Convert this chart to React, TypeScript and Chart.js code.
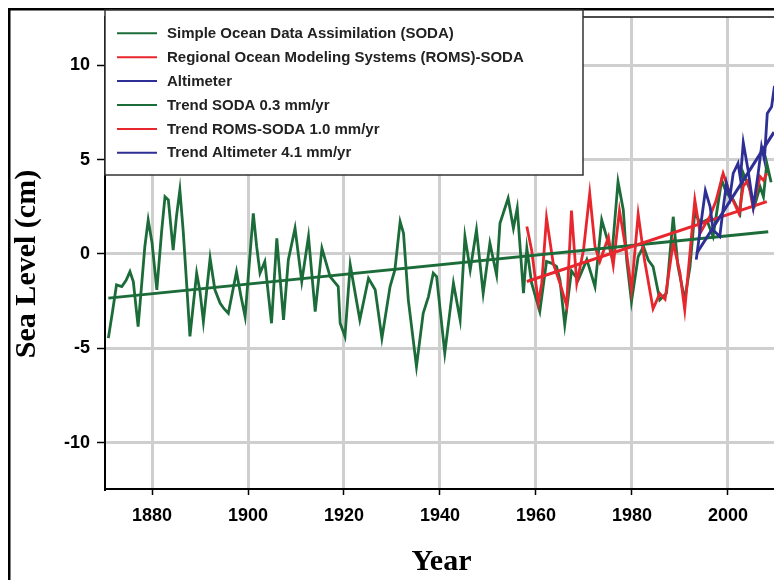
import React, { useEffect, useRef } from "react";
import { Chart, registerables } from "chart.js";

Chart.register(...registerables);

// ---------- data ----------
const X_TICKS = [1880, 1900, 1920, 1940, 1960, 1980, 2000];
const Y_TICKS = [-10, -5, 0, 5, 10];
const X_MIN = 1870.2;
const X_MAX = 2009.6;
const Y_MIN = -12.45;
const Y_MAX = 12.55;

const SERIES_LABELS = [
  "Simple Ocean Data Assimilation (SODA)",
  "Regional Ocean Modeling Systems (ROMS)-SODA",
  "Altimeter",
  "Trend SODA 0.3 mm/yr",
  "Trend ROMS-SODA 1.0 mm/yr",
  "Trend Altimeter 4.1 mm/yr",
];

const SODA_YEARS = [
  1870.9, 1871.8, 1872.6, 1873.7, 1874.6, 1875.4, 1876.1, 1877.1, 1878.5, 1879.2,
  1880.0, 1881.0, 1882.0, 1882.7, 1883.4, 1884.4, 1885.1, 1885.8, 1886.5, 1887.2,
  1887.9, 1889.3, 1890.0, 1890.7, 1892.1, 1893.1, 1894.2, 1895.0, 1895.9, 1897.6,
  1898.5, 1899.4, 1900.3, 1901.1, 1901.8, 1902.5, 1903.5, 1904.9, 1906.0, 1907.4,
  1908.4, 1909.8, 1911.2, 1912.6, 1914.0, 1915.4, 1917.1, 1918.8, 1919.2, 1920.2,
  1921.3, 1923.3, 1925.1, 1926.5, 1927.9, 1929.6, 1930.6, 1931.7, 1932.4, 1933.4,
  1935.1, 1936.5, 1937.6, 1938.6, 1939.3, 1941.0, 1942.8, 1944.2, 1945.2, 1946.3,
  1947.6, 1949.0, 1950.4, 1951.8, 1952.5, 1954.2, 1955.3, 1956.1, 1957.4, 1958.1,
  1959.1, 1960.8, 1962.2, 1963.3, 1964.3, 1965.0, 1966.0, 1967.4, 1968.8, 1970.6,
  1972.3, 1973.7, 1974.7, 1975.8, 1977.1, 1978.2, 1978.9, 1979.9, 1981.3, 1982.4,
  1983.4, 1984.4, 1985.8, 1987.2, 1988.6, 1989.6, 1991.0, 1992.1, 1993.1, 1994.2,
  1995.6, 1996.9, 1998.7, 1999.7, 2001.1, 2002.5, 2003.2, 2004.6, 2005.6, 2006.7,
  2007.4, 2008.1, 2009.0,
];
const SODA_LEVELS = [
  -4.46, -3.0, -1.64, -1.73, -1.4, -0.94, -1.46, -3.85, 0.39, 1.8,
  0.6, -1.9, 1.2, 3.03, 2.86, 0.2, 2.0, 3.39, 1.2, -1.55,
  -4.37, -1.02, -2.0, -3.58, -0.23, -1.9, -2.61, -2.9, -3.14, -0.94,
  -2.2, -3.32, -0.4, 2.15, 0.4, -1.02, -0.41, -3.67, 0.83, -3.49,
  -0.32, 1.36, -1.46, 0.92, -3.05, 0.3, -1.2, -1.73, -3.67, -4.37,
  -0.58, -3.49, -1.29, -1.9, -4.46, -1.73, -0.85, 1.71, 1.1, -2.43,
  -5.96, -3.14, -2.26, -1.02, -1.2, -5.25, -1.55, -3.49, 0.92, -0.85,
  1.27, -2.08, 0.57, -1.11, 1.62, 2.95, 1.36, 2.42, -2.08, 0.3,
  -1.55, -3.05, -0.4, -0.5, -0.67, -1.38, -3.76, -0.9, -1.38, -0.3,
  -1.73, 1.8, 0.92, -0.14, 3.83, 2.33, -0.32, -2.52, -0.14, 0.39,
  -0.32, -0.67, -2.43, -2.08, 1.97, -0.67, -2.43, -0.67, 2.24, 1.62,
  1.8, 0.92, 3.92, 3.21, 2.86, 2.15, 4.27, 3.39, 2.59, 3.56,
  3.03, 4.8, 3.8,
];

const ROMS_YEARS = [
  1958.1, 1959.1, 1960.5, 1961.2, 1962.2, 1963.6, 1965.0, 1966.4, 1967.4, 1968.5,
  1969.9, 1971.2, 1972.3, 1973.3, 1975.1, 1976.1, 1977.4, 1978.9, 1979.9, 1981.3,
  1982.6, 1984.4, 1985.8, 1986.9, 1988.6, 1990.0, 1991.0, 1993.1, 1994.2, 1995.3,
  1996.2, 1997.5, 1999.0, 2000.4, 2002.3, 2003.2, 2004.2, 2005.2, 2006.7, 2007.4,
  2008.1,
];
const ROMS_LEVELS = [
  1.45, 0.2, -2.6, -1.55, 1.9, -0.5, -1.55, -2.75, 2.3, -1.55,
  0.2, 3.2, 0.4, -0.4, 0.9, -0.6, 2.3, 0.0, -1.9, 2.1,
  -0.3, -2.9, -2.1, -2.4, 0.6, -1.0, -2.96, 2.86, 1.1, 1.6,
  1.97, 2.8, 4.27, 3.2, 2.15, 3.6, 3.9, 2.5, 4.1, 3.9,
  4.27,
];

const ALT_YEARS = [
  1993.4, 1994.2, 1995.3, 1996.3, 1996.9, 1998.3, 1999.0, 1999.7, 2000.4, 2001.1,
  2002.1, 2002.6, 2003.2, 2004.2, 2005.3, 2006.3, 2007.0, 2007.6, 2008.2, 2009.1,
  2009.7,
];
const ALT_LEVELS = [
  -0.3, 1.27, 3.35, 2.5, 1.27, 0.92, 2.4, 3.74, 3.0, 4.27,
  4.8, 4.0, 5.9, 4.44, 2.5, 4.27, 5.68, 5.0, 7.44, 7.8,
  8.9,
];

const TREND_SODA_YEARS = [1870.9, 2008.4];
const TREND_SODA_LEVELS = [-2.34, 1.18];
const TREND_ROMS_YEARS = [1958.1, 2008.1];
const TREND_ROMS_LEVELS = [-1.46, 2.77];
const TREND_ALT_YEARS = [1993.5, 2009.6];
const TREND_ALT_LEVELS = [0.04, 6.45];

const GREEN = "#1c6c3a";
const RED = "#e8262e";
const BLUE = "#2e2f94";

const pts = (xs: number[], ys: number[]) => xs.map((x, i) => ({ x, y: ys[i] }));

const SANS = "'Liberation Sans', Arial, Helvetica, sans-serif";
const SERIF = "'Liberation Serif', 'Times New Roman', serif";

const decorPlugin = {
  id: "decor",
  afterDraw(chart: any) {
    const { ctx, chartArea: ca } = chart;
    ctx.save();
    // plot top border
    ctx.strokeStyle = "#111";
    ctx.lineWidth = 1.5;
    ctx.beginPath();
    ctx.moveTo(ca.left, ca.top);
    ctx.lineTo(chart.width, ca.top);
    ctx.stroke();
    // outer frame (left & top)
    ctx.fillStyle = "#000";
    ctx.fillRect(8, 8, chart.width - 8, 2.5);
    ctx.fillRect(8, 8, 2.5, chart.height - 8);
    // legend box
    const bx = ca.left;
    const by = 10;
    const bw = 478;
    const bh = 165;
    ctx.fillStyle = "#fff";
    ctx.fillRect(bx, by, bw, bh);
    ctx.strokeStyle = "#333";
    ctx.lineWidth = 1.5;
    ctx.strokeRect(bx, by, bw, bh);
    ctx.font = `bold 15px ${SANS}`;
    ctx.textAlign = "left";
    ctx.textBaseline = "middle";
    chart.data.datasets.forEach((ds: any, i: number) => {
      const y = 33.3 + i * 23.9;
      ctx.strokeStyle = ds.borderColor;
      ctx.lineWidth = 2;
      ctx.beginPath();
      ctx.moveTo(117, y);
      ctx.lineTo(157, y);
      ctx.stroke();
      ctx.fillStyle = "#222";
      ctx.fillText(ds.label, 167, y + 0.5);
    });
    // axis titles
    ctx.fillStyle = "#000";
    ctx.font = `bold 30px ${SERIF}`;
    ctx.textAlign = "center";
    ctx.textBaseline = "alphabetic";
    ctx.fillText("Year", (ca.left + ca.right) / 2 + 2, 570);
    ctx.translate(35, 264);
    ctx.rotate(-Math.PI / 2);
    ctx.fillText("Sea Level (cm)", 0, 0);
    ctx.restore();
  },
};

export default function App() {
  const ref = useRef<HTMLCanvasElement | null>(null);

  useEffect(() => {
    document.documentElement.style.overflow = "hidden";
    const canvas = ref.current;
    if (!canvas) return;
    const tickFont = { family: SANS, weight: "bold" as const, size: 18 };
    const zeroPad = (s: any) => {
      s.paddingTop = 0;
      s.paddingBottom = 0;
      s.paddingLeft = 0;
      s.paddingRight = 0;
    };
    const chart = new Chart(canvas, {
      type: "line",
      data: {
        datasets: [
          { label: SERIES_LABELS[0], data: pts(SODA_YEARS, SODA_LEVELS), borderColor: GREEN, backgroundColor: GREEN, borderWidth: 2.8, order: 6 },
          { label: SERIES_LABELS[1], data: pts(ROMS_YEARS, ROMS_LEVELS), borderColor: RED, backgroundColor: RED, borderWidth: 2.8, order: 5 },
          { label: SERIES_LABELS[2], data: pts(ALT_YEARS, ALT_LEVELS), borderColor: BLUE, backgroundColor: BLUE, borderWidth: 2.8, order: 1 },
          { label: SERIES_LABELS[3], data: pts(TREND_SODA_YEARS, TREND_SODA_LEVELS), borderColor: GREEN, backgroundColor: GREEN, borderWidth: 3, order: 3 },
          { label: SERIES_LABELS[4], data: pts(TREND_ROMS_YEARS, TREND_ROMS_LEVELS), borderColor: RED, backgroundColor: RED, borderWidth: 3, order: 2 },
          { label: SERIES_LABELS[5], data: pts(TREND_ALT_YEARS, TREND_ALT_LEVELS), borderColor: BLUE, backgroundColor: BLUE, borderWidth: 3, order: 0 },
        ],
      },
      options: {
        animation: false,
        responsive: false,
        events: [],
        layout: { padding: { top: 17, right: 0, bottom: 0, left: 8 } },
        plugins: { legend: { display: false }, tooltip: { enabled: false } },
        elements: { point: { radius: 0 }, line: { tension: 0 } },
        scales: {
          x: {
            type: "linear",
            min: X_MIN,
            max: X_MAX,
            afterBuildTicks: (s: any) => {
              s.ticks = X_TICKS.map((v) => ({ value: v }));
            },
            afterFit: (s: any) => {
              s.height = 91;
              zeroPad(s);
            },
            grid: { color: "#cfcfcf", lineWidth: 3, tickColor: "#000", tickLength: 6, tickWidth: 1.5 },
            border: { display: true, color: "#000", width: 2 },
            ticks: { font: tickFont, color: "#000", padding: 10, maxRotation: 0, autoSkip: false, callback: (v: any) => String(v) },
          },
          y: {
            type: "linear",
            min: Y_MIN,
            max: Y_MAX,
            afterBuildTicks: (s: any) => {
              s.ticks = Y_TICKS.map((v) => ({ value: v }));
            },
            afterFit: (s: any) => {
              s.width = 97;
              zeroPad(s);
            },
            grid: { color: "#cfcfcf", lineWidth: 3, tickColor: "#000", tickLength: 8, tickWidth: 1.5 },
            border: { display: true, color: "#000", width: 2 },
            ticks: { font: tickFont, color: "#000", padding: 7, autoSkip: false, callback: (v: any) => String(v) },
          },
        },
      },
      plugins: [decorPlugin],
    });
    return () => chart.destroy();
  }, []);

  return (
    <div style={{ width: 758, height: 564 }}>
      <canvas
        ref={ref}
        width={774}
        height={580}
        style={{ position: "fixed", left: 0, top: 0, display: "block", width: 774, height: 580 }}
      />
    </div>
  );
}
